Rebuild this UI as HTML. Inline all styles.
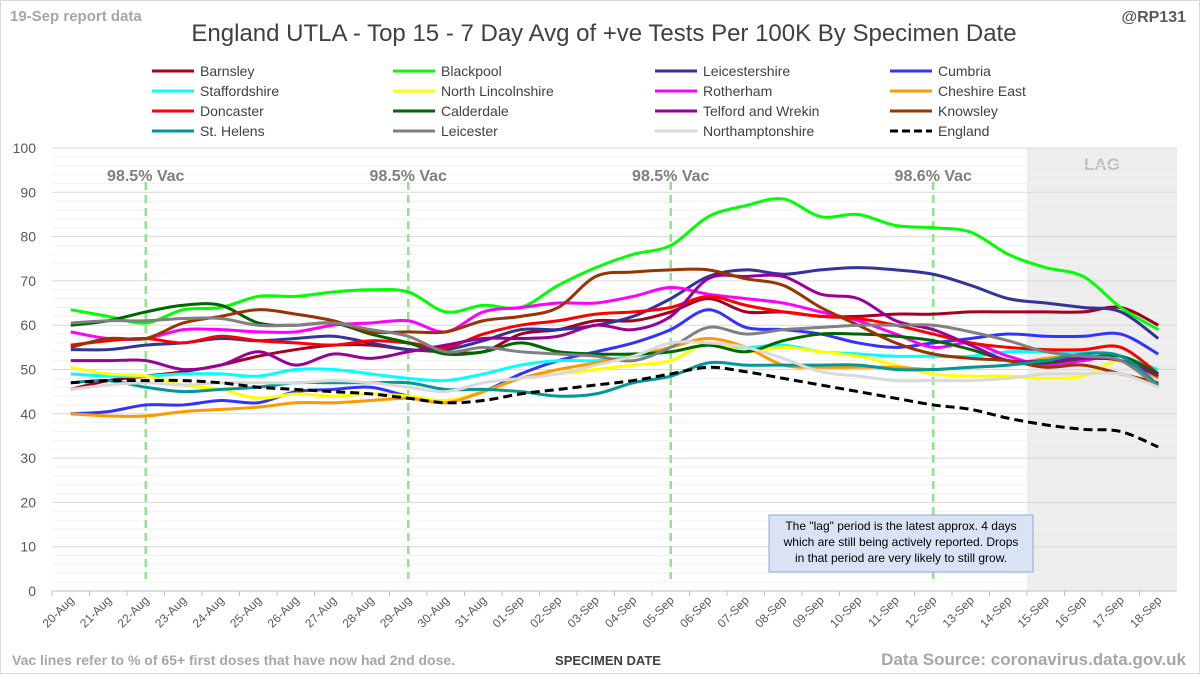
<!DOCTYPE html>
<html><head><meta charset="utf-8"><style>
body{margin:0;background:#fff;}
svg text{font-family:"Liberation Sans",sans-serif;}
</style></head><body>
<svg id="chart" width="1200" height="674" viewBox="0 0 1200 674" xmlns="http://www.w3.org/2000/svg">
<rect x="0.5" y="0.5" width="1199" height="673" fill="#fff" stroke="#d9d9d9"/>
<text x="10" y="21" font-size="15" fill="#a6a6a6" font-weight="bold">19-Sep report data</text>
<text x="604" y="41" font-size="24" fill="#404040" text-anchor="middle">England UTLA - Top 15 - 7 Day Avg of +ve Tests Per 100K By Specimen Date</text>
<text x="1186" y="22" font-size="16" fill="#595959" font-weight="bold" text-anchor="end">@RP131</text>
<g id="legend"></g>
<g id="plot"></g>
<text x="608" y="665" font-size="13" fill="#404040" font-weight="bold" text-anchor="middle">SPECIMEN DATE</text>
<text x="12" y="665" font-size="14" fill="#a6a6a6" font-weight="bold">Vac lines refer to % of 65+ first doses that have now had 2nd dose.</text>
<text x="1186" y="665" font-size="17" fill="#a6a6a6" font-weight="bold" text-anchor="end">Data Source: coronavirus.data.gov.uk</text>
</svg>
<script>
const categories=["20-Aug","21-Aug","22-Aug","23-Aug","24-Aug","25-Aug","26-Aug","27-Aug","28-Aug","29-Aug","30-Aug","31-Aug","01-Sep","02-Sep","03-Sep","04-Sep","05-Sep","06-Sep","07-Sep","08-Sep","09-Sep","10-Sep","11-Sep","12-Sep","13-Sep","14-Sep","15-Sep","16-Sep","17-Sep","18-Sep"];
const yTicks=[0,10,20,30,40,50,60,70,80,90,100];
const seriesNames=["Barnsley","Blackpool","Leicestershire","Cumbria","Staffordshire","North Lincolnshire","Rotherham","Cheshire East","Doncaster","Calderdale","Telford and Wrekin","Knowsley","St. Helens","Leicester","Northamptonshire","England"];
const seriesColors=["#a50021","#00ff00","#333399","#3333ff","#00ffff","#ffff00","#ff00ff","#ff9900","#ff0000","#006600","#990099","#993300","#009999","#808080","#d9d9d9","#000000"];
const barnsley=[45.5,47.5,48.5,49.5,51,53,54.5,55.5,55.5,54.5,54,54,58,59,61,61,63,66,63,63,62,62,62.5,62.5,63,63,63,63,64,60];
const blackpool=[63.5,62,60.5,63.5,64,66.5,66.5,67.5,68,67.5,63,64.5,64,69,73,76,78,84.5,87,88.5,84.5,85,82.5,82,81,76,73,71,64,59];
const leicestershire=[54.5,54.5,55.5,56,57,56.5,57,57.5,56,54.5,54.5,56.5,59,59,60,62,66,71,72.5,71.5,72.5,73,72.5,71.5,69,66,65,64,63,57];
const cumbria=[40,40.5,42,42,43,42.5,45,45.5,46,44,43,45,49,52,54,56,59,63.5,59.5,59,58,56,55,56,57,58,57.5,57.5,58,53.5];
const staffordshire=[49,48.5,48.5,49,49,48.5,50,50,49,48,47.5,49,51,52,52,53,54,55.5,55,55.5,54,53.5,53,53,53,54,54,54,53,50];
const northLincs=[50.5,49,48.5,46.5,45.5,43.5,44.5,44,44.5,44,43,45,48,49,50,51,52,56,54,55,54,53,51,49,48.5,48.5,48,48.5,52,48];
const rotherham=[58.5,57,57,59,59,58.5,58.5,60,60.5,61,58.5,63,64,65,65,66.5,68.5,67,66,65,63,61,58,55,56,53,51,52,53,48.5];
const cheshireEast=[40,39.5,39.5,40.5,41,41.5,42.5,42.5,43,43.5,42.5,45,48,50,51.5,53,55,57,55,51,50.5,50.5,50.5,50,50.5,51,52.5,53,52,48];
const doncaster=[55.5,56.5,57,56,57.5,56.5,56,55.5,56.5,56,55,58,60,61,62.5,63,64,66.5,64.5,63,62,61.5,60,58,56,55,54.5,54.5,55,49];
const calderdale=[60,61,63,64.5,64.5,60.5,60,60.5,58,56,53.5,54,56,54,53.5,53.5,54,55.5,54,56.5,58,58,57.5,56.5,54.5,52,51.5,52.5,53,49];
const telford=[52,52,52,50,51,54,51,53.5,52.5,54,55.5,57,57,57.5,60,59,62,70.5,71,71,67,66,61,59,55.5,52,52,52.5,52,48.5];
const knowsley=[55,57,57,60.5,62,63.5,62.5,61,58.5,58.5,58.5,61,62,64,71,72,72.5,72.5,70.5,69,64,60,56,53.5,52.5,52,50.5,51,49,47];
const stHelens=[47,47.5,46,45,45.5,46,47,47,47,47,45.5,45.5,45,44,44.5,47,48.5,51.5,51,51,51,51,50,50,50.5,51,52,53.5,53,46.5];
const leicester=[60.5,61,61,61.5,61.5,60,60,60.5,59,57.5,54,55,54,53.5,53,52,55,59.5,58,59,59.5,60,60,60,58.5,56.5,54,53,52,46];
const northants=[45.5,46.5,47,46.5,47,47,47,47.5,47,46,45,47,48,49,51,53,56,56,55,52.5,49.5,48.5,47.5,47.5,47.5,48,49,49,49,46];
const england=[47,47.5,47.5,47.5,47,46,45.5,45,44.5,43.5,42.5,43,44.5,45.5,46.5,47.5,49,50.5,49.5,48,46.5,45,43.5,42,41,39,37.5,36.5,36,32.5];
const vacIndex=[2,9,16,23];
const vacLabels=["98.5% Vac","98.5% Vac","98.5% Vac","98.6% Vac"];
const lagStartIndex=26;

const allSeries=[barnsley,blackpool,leicestershire,cumbria,staffordshire,northLincs,rotherham,cheshireEast,doncaster,calderdale,telford,knowsley,stHelens,leicester,northants,england];
const NS="http://www.w3.org/2000/svg";
const X0=52,X1=1177,Y0=591,Y1=148;
const band=(X1-X0)/categories.length;
const xPos=i=>X0+band*(i+0.5);
const xEdge=i=>X0+band*i;
const yPos=v=>Y0-(v-0)/(100-0)*(Y0-Y1);
function mk(tag,attrs,parent){const e=document.createElementNS(NS,tag);for(const k in attrs)e.setAttribute(k,attrs[k]);parent.appendChild(e);return e;}
const plot=document.getElementById('plot');
const lag=mk('rect',{x:xEdge(lagStartIndex),y:Y1,width:X1-xEdge(lagStartIndex),height:Y0-Y1,fill:'#ededed'},plot);


const lagT=mk('text',{x:(xEdge(lagStartIndex)+X1)/2,y:Y1+22,'font-size':17,'font-weight':'bold',fill:'#bfbfbf','text-anchor':'middle'},plot);
lagT.textContent='LAG';


for(let v=2;v<100;v+=2){if(v%10===0)continue;const g=mk('line',{x1:X0,x2:X1,y1:yPos(v),y2:yPos(v),stroke:'#f2f2f2','stroke-width':1},plot);

}
yTicks.forEach(v=>{const g=mk('line',{x1:X0,x2:X1,y1:yPos(v),y2:yPos(v),stroke:v===0?'#bfbfbf':'#d9d9d9','stroke-width':1},plot);


const t=mk('text',{x:36,y:yPos(v)+5,'font-size':14,fill:'#595959','text-anchor':'end'},plot);t.textContent=v;

});
categories.forEach((c,i)=>{const tk=mk('line',{x1:xEdge(i),x2:xEdge(i),y1:Y0,y2:Y0+5,stroke:'#bfbfbf'},plot);


const x=xPos(i)+4,y=Y0+10;const t=mk('text',{x:x,y:y,'font-size':12,fill:'#595959','text-anchor':'end',transform:`rotate(-45 ${x} ${y})`},plot);t.textContent=c;

});
vacIndex.forEach((vi,k)=>{const xx=xEdge(vi)+band*0.5;
const l=mk('line',{x1:xx,x2:xx,y1:Y1+34,y2:Y0-12,stroke:'#92e28f','stroke-width':2.5,'stroke-dasharray':'8 5'},plot);


const t=mk('text',{x:xx,y:Y1+33,'font-size':16,'font-weight':'bold',fill:'#7f7f7f','text-anchor':'middle'},plot);t.textContent=vacLabels[k];

});
function smooth(vals){const p=vals.map((v,i)=>[xPos(i),yPos(v)]);let d=`M${p[0][0]},${p[0][1]}`;
for(let i=0;i<p.length-1;i++){const p0=p[Math.max(0,i-1)],p1=p[i],p2=p[i+1],p3=p[Math.min(p.length-1,i+2)];
const c1=[p1[0]+(p2[0]-p0[0])/6,p1[1]+(p2[1]-p0[1])/6],c2=[p2[0]-(p3[0]-p1[0])/6,p2[1]-(p3[1]-p1[1])/6];
d+=` C${c1[0]},${c1[1]} ${c2[0]},${c2[1]} ${p2[0]},${p2[1]}`;}return d;}
allSeries.forEach((s,k)=>{const attrs={d:smooth(s),fill:'none',stroke:seriesColors[k],'stroke-width':3,'stroke-linejoin':'round'};
if(k===15)attrs['stroke-dasharray']='9 5';
const path=mk('path',attrs,plot);

});
const ab=mk('rect',{x:769,y:515,width:264,height:57,fill:'#dae3f3',stroke:'#8faadc','stroke-width':1},plot);


['The "lag" period is the latest approx. 4 days','which are still being actively reported. Drops','in that period are very likely to still grow.'].forEach((s,i)=>{
const t=mk('text',{x:901,y:530+i*16,'font-size':12,fill:'#000','text-anchor':'middle'},plot);t.textContent=s;

});
const leg=document.getElementById('legend');const colX=[152,393,655,890];
seriesNames.forEach((n,k)=>{const cx=colX[k%4],cy=71+Math.floor(k/4)*20;const g=mk('g',{},leg);


const a={x1:cx,x2:cx+42,y1:cy,y2:cy,stroke:seriesColors[k],'stroke-width':3};if(k===15)a['stroke-dasharray']='8 4';mk('line',a,g);
const t=mk('text',{x:cx+48,y:cy+5,'font-size':14,fill:'#404040'},g);t.textContent=n;});
</script>
</body></html>
